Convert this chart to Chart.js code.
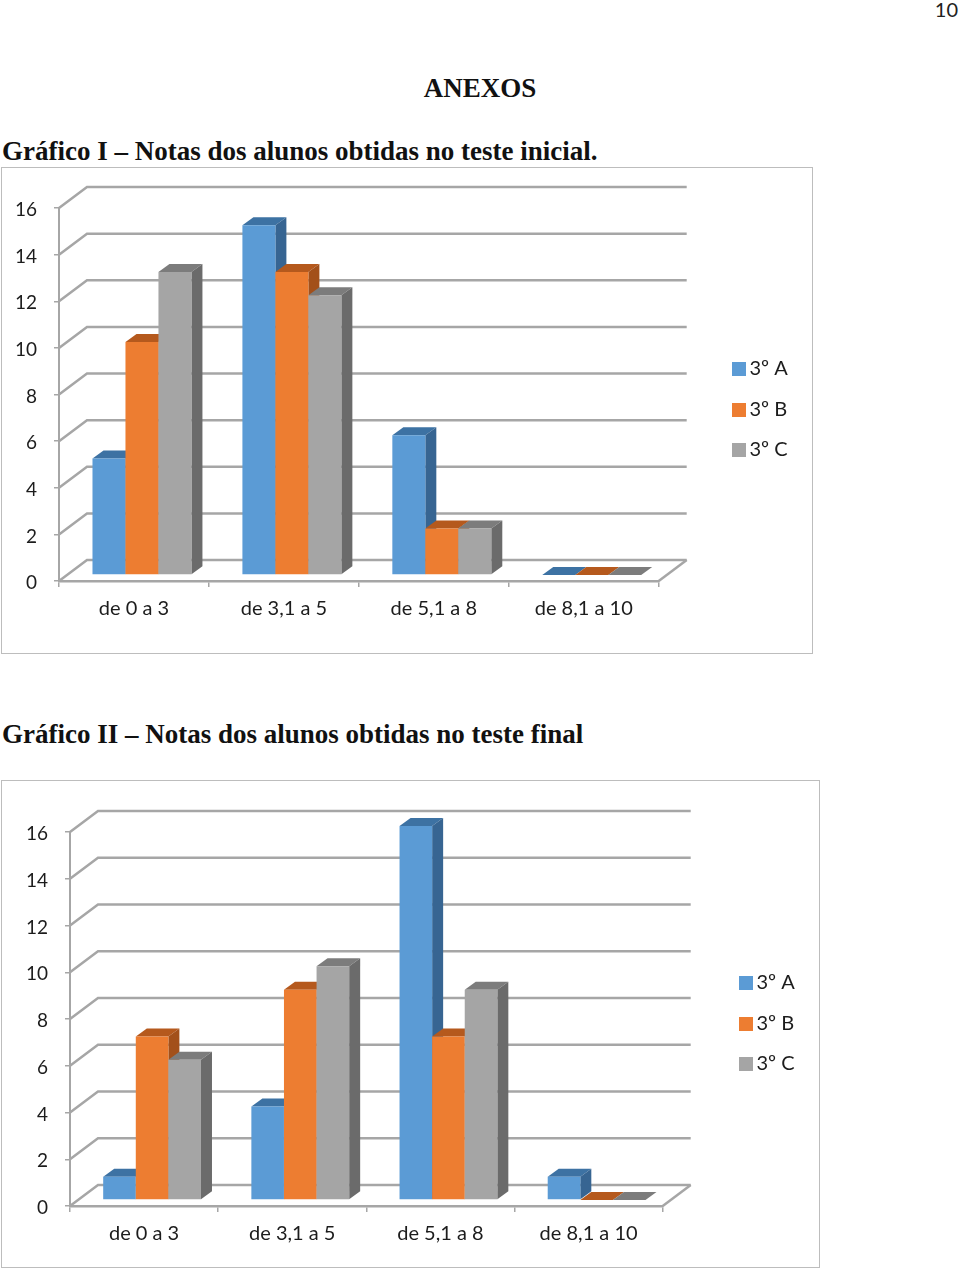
<!DOCTYPE html>
<html lang="pt"><head><meta charset="utf-8">
<style>
html,body{margin:0;padding:0;background:#fff;width:960px;height:1271px;overflow:hidden}
.t{position:absolute;white-space:nowrap;font-family:"Liberation Serif",serif;font-weight:bold;color:#111;line-height:1}
.frame{position:absolute;box-sizing:border-box;border:1.5px solid #bdbdbd;background:#fff}
canvas{position:absolute;left:0;top:0}
</style>
<script src="https://cdn.jsdelivr.net/npm/chart.js@4/dist/chart.umd.min.js"></script>
</head><body>
<div class="t" style="right:2px;top:-3px;font:20px Lato,sans-serif;color:#222">10</div>
<div class="t" style="left:0;width:960px;text-align:center;top:75px;font-size:27px">ANEXOS</div>
<div class="t" style="left:2px;top:138px;font-size:27px">Gráfico I – Notas dos alunos obtidas no teste inicial.</div>
<div class="frame" style="left:1px;top:167px;width:812px;height:487px"><canvas id="c1"></canvas></div>
<div class="t" style="left:2px;top:721px;font-size:27px">Gráfico II – Notas dos alunos obtidas no teste final</div>
<div class="frame" style="left:1px;top:780px;width:819px;height:488px"><canvas id="c2"></canvas></div>
<script>
const categories = ["de 0 a 3", "de 3,1 a 5", "de 5,1 a 8", "de 8,1 a 10"];
const seriesNames = ["3º A", "3º B", "3º C"];
const initialA = [5, 15, 6, 0];
const initialB = [10, 13, 2, 0];
const initialC = [13, 12, 2, 0];
const finalA = [1, 4, 16, 1];
const finalB = [7, 9, 7, 0];
const finalC = [6, 10, 9, 0];
const yTicks = [0, 2, 4, 6, 8, 10, 12, 14, 16];

const front = ["#5b9bd5", "#ed7d31", "#a5a5a5"];
const topFace = ["#3d72a3", "#b5591d", "#7c7c7c"];
const sideFace = ["#376592", "#a3501a", "#6b6b6b"];
const GRID = "#a6a6a6", FONT = "Lato, sans-serif";

function swatch(color) {
  const c = document.createElement("canvas");
  c.width = 14; c.height = 14;
  const x = c.getContext("2d");
  x.fillStyle = color; x.fillRect(0, 0, 14, 14);
  return c;
}
const swatches = front.map(swatch);

const depth3d = {
  id: "depth3d",
  beforeDatasetsDraw(chart, a, o) {
    const {ctx} = chart, y = chart.scales.y;
    const {left, right, bottom} = chart.chartArea;
    ctx.save();
    ctx.strokeStyle = GRID; ctx.lineWidth = 2.5;
    yTicks.forEach(v => {
      const p = y.getPixelForValue(v);
      ctx.beginPath();
      ctx.moveTo(left, p);
      ctx.lineTo(left + o.wallX, p - o.wallY);
      ctx.lineTo(right + o.wallX, p - o.wallY);
      ctx.stroke();
    });
    ctx.beginPath();
    ctx.moveTo(right, bottom);
    ctx.lineTo(right + o.wallX, bottom - o.wallY);
    ctx.stroke();
    ctx.restore();

    ctx.save();
    ctx.translate(o.shiftX, -o.shiftY);
    chart.data.datasets.forEach((ds, i) => {
      const meta = chart.getDatasetMeta(i);
      meta.data.forEach(el => {
        const l = el.x - el.width / 2, r = el.x + el.width / 2, t = el.y, b = el.base;
        ctx.fillStyle = topFace[i];
        ctx.beginPath();
        ctx.moveTo(l, t); ctx.lineTo(l + o.barX, t - o.barY);
        ctx.lineTo(r + o.barX, t - o.barY); ctx.lineTo(r, t);
        ctx.closePath(); ctx.fill();
        if (b - t > 0.5) {
          ctx.fillStyle = sideFace[i];
          ctx.beginPath();
          ctx.moveTo(r, t); ctx.lineTo(r + o.barX, t - o.barY);
          ctx.lineTo(r + o.barX, b - o.barY); ctx.lineTo(r, b);
          ctx.closePath(); ctx.fill();
        }
      });
      meta.controller.draw();
    });
    ctx.restore();
    return false;
  },
  afterLayout(chart, a, o) {
    const L = chart.legend, pad = L.options.labels.padding;
    const dx = o.legendX - pad - L.left, dy = o.legendY - pad - L.top;
    L.left += dx; L.right += dx; L.top += dy; L.bottom += dy;
    chart.scales.y.getLabelItems(chart.chartArea).forEach(it => { it.options.translation[1] += o.labelDrop; });
  }
};

function makeChart(id, w, h, series, g) {
  const el = document.getElementById(id);
  el.width = w; el.height = h;
  el.style.width = w + "px"; el.style.height = h + "px";
  return new Chart(el, {
    type: "bar",
    data: {
      labels: categories,
      datasets: series.map((d, i) => ({
        label: seriesNames[i], data: d, backgroundColor: front[i], clip: false, borderWidth: 0
      }))
    },
    plugins: [depth3d],
    options: {
      responsive: false, animation: false,
      layout: {padding: {left: 0, top: g.top, right: g.right, bottom: 0}},
      datasets: {bar: {barPercentage: 1, categoryPercentage: 0.66}},
      scales: {
        x: {
          grid: {drawOnChartArea: false, color: GRID, lineWidth: 1.5, tickLength: 6, offset: true},
          border: {color: GRID, width: 2.5},
          ticks: {color: "#1c1c1c", font: {family: FONT, size: 20}, padding: 10, maxRotation: 0, autoSkip: false},
          afterFit(s) { s.height = g.xH; }
        },
        y: {
          min: 0, max: 16,
          grid: {drawOnChartArea: false, color: GRID, lineWidth: 1.5, tickLength: g.tickY},
          border: {color: GRID, width: 2},
          ticks: {stepSize: 2, color: "#1c1c1c", font: {family: FONT, size: 19}, padding: g.padY},
          afterFit(s) { s.width = g.yW; }
        }
      },
      plugins: {
        tooltip: {enabled: false},
        title: {display: false},
        legend: {
          position: "right", align: "start",
          labels: {
            usePointStyle: true, pointStyleWidth: 2, boxHeight: 14, padding: 20.5, color: "#1c1c1c",
            font: {family: FONT, size: 20},
            generateLabels(chart) {
              return Chart.defaults.plugins.legend.labels.generateLabels(chart)
                .map(it => Object.assign(it, {pointStyle: swatches[it.datasetIndex]}));
            }
          }
        },
        depth3d: {wallX: 28, wallY: 21, shiftX: 8, shiftY: 6, barX: 11, barY: 8, legendX: g.lx, legendY: g.ly, labelDrop: 2}
      }
    }
  });
}

makeChart("c1", 809, 484, [initialA, initialB, initialC],
  {top: 40, right: 71.5, xH: 71, yW: 57, tickY: 5, padY: 17, lx: 735.5, ly: 191});
makeChart("c2", 816, 485, [finalA, finalB, finalC],
  {top: 51, right: 74.5, xH: 60, yW: 68, tickY: 5, padY: 17, lx: 742.5, ly: 192});
</script>
</body></html>
